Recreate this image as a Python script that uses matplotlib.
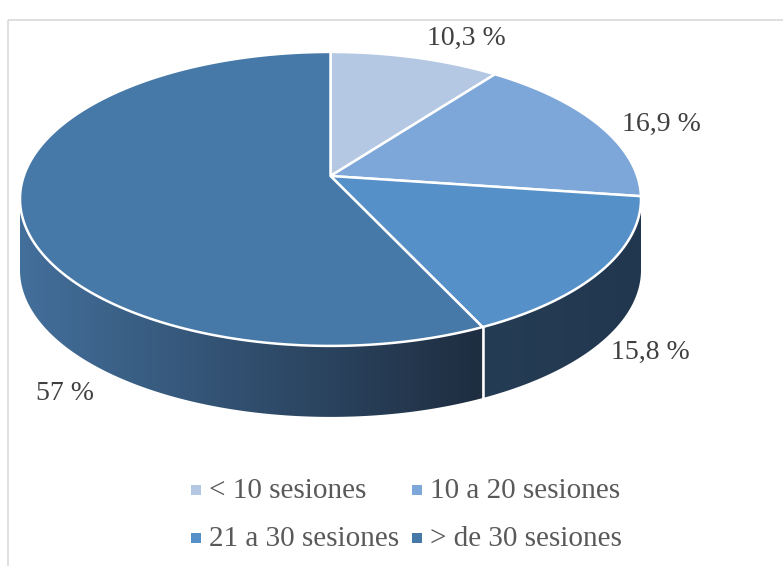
import numpy as np
import matplotlib.pyplot as plt
from matplotlib.patches import Polygon, Rectangle
from matplotlib.colors import LinearSegmentedColormap

# ----Data
categories = ['< 10 sesiones', '10 a 20 sesiones',
              '21 a 30 sesiones', '> de 30 sesiones']
values = [10.3, 16.9, 15.8, 57.0]
value_labels = ['10,3 %', '16,9 %', '15,8 %', '57 %']

# ----Style
top_colors = ['#B4C8E4', '#7DA7D9', '#5590C8', '#4679A8']
side_shades = [('#8A9DB8', '#8A9DB8'), ('#5F82AA', '#5F82AA'),
               ('#253D54', '#213750'), ('#436F9B', '#1E2D40')]
label_color = '#404040'
legend_color = '#595959'
serif = ['Liberation Serif', 'DejaVu Serif']

# ----Geometry of the tilted disk (pixel units)
CX, CY = 330.5, 176.0   # projected centre of the top face
RX, RY = 306.7, 143.4   # radii before perspective
K = 0.156               # perspective strength
DEPTH = 71.0            # thickness of the disk


def project(theta_deg, r=1.0):
    # Map an angle on the disk to screen pixels with simple perspective
    t = np.radians(theta_deg)
    u = r * np.cos(t)
    v = r * np.sin(t)
    s = 1.0 / (1.0 + K * v)
    return CX + RX * u * s, CY - RY * v * s


def slice_angles(vals):
    # Start at 12 o'clock and go clockwise
    cum = np.concatenate([[0], np.cumsum(vals)]) / np.sum(vals)
    start = 90 - 360 * cum[:-1]
    end = 90 - 360 * cum[1:]
    return start, end


fig = plt.figure(figsize=(7.83, 5.66), dpi=100)
ax = fig.add_axes([0, 0, 1, 1])

# Chart area border
ax.add_patch(Rectangle((8, 20), 900, 700, fill=False,
                       edgecolor='#D9D9D9', linewidth=1.2))

starts, ends = slice_angles(values)

# Visible front range of the side wall (between the silhouette points)
edge = np.degrees(np.arcsin(K))
front_lo, front_hi = -180 + edge, -edge

# --- Side walls
for i in range(len(values)):
    hi = min(starts[i], front_hi)
    lo = max(ends[i], front_lo)
    if hi <= lo:
        continue
    th = np.linspace(hi, lo, 200)
    xt, yt = project(th)
    xs = np.concatenate([xt, xt[::-1]])
    ys = np.concatenate([yt, yt[::-1] + DEPTH])
    poly = Polygon(np.column_stack([xs, ys]), closed=True,
                   facecolor='none', edgecolor='none', zorder=2)
    ax.add_patch(poly)
    cmap = LinearSegmentedColormap.from_list('side', list(side_shades[i]))
    grad = np.linspace(0, 1, 256).reshape(1, -1)
    im = ax.imshow(grad, cmap=cmap, aspect='auto', zorder=2,
                   extent=[xs.min(), xs.max(), ys.max(), ys.min()])
    im.set_clip_path(poly)

# White seams between side walls
for a in starts[1:]:
    if front_lo < a < front_hi:
        x0, y0 = project(a)
        ax.plot([x0, x0], [y0, y0 + DEPTH], color='white', lw=1.8, zorder=3)

# --- Top faces
for i in range(len(values)):
    th = np.linspace(starts[i], ends[i], 300)
    xt, yt = project(th)
    pts = np.column_stack([np.r_[CX, xt], np.r_[CY, yt]])
    ax.add_patch(Polygon(pts, closed=True, facecolor=top_colors[i],
                         edgecolor='white', linewidth=1.8,
                         joinstyle='round', zorder=4))

# --- Data labels (positions as placed in the original chart)
label_xy = [(466, 38), (661, 124), (650, 352), (65, 393)]
for (lx, ly), txt in zip(label_xy, value_labels):
    ax.text(lx, ly, txt, ha='center', va='center', fontsize=20,
            color=label_color, family=serif, zorder=5)

# --- Legend, two rows by two columns
col_x = [196, 417]
row_y = [490, 538]
for i, name in enumerate(categories):
    mx = col_x[i % 2]
    my = row_y[i // 2]
    ax.add_patch(Rectangle((mx - 5, my - 5), 10, 10,
                           facecolor=top_colors[i], edgecolor='none'))
    ax.text(mx + 13, my + 1, name, ha='left', va='center', fontsize=21,
            color=legend_color, family=serif)

ax.set_xlim(0, 783)
ax.set_ylim(566, 0)
ax.axis('off')

plt.savefig('out.png', dpi=100)
plt.close()
